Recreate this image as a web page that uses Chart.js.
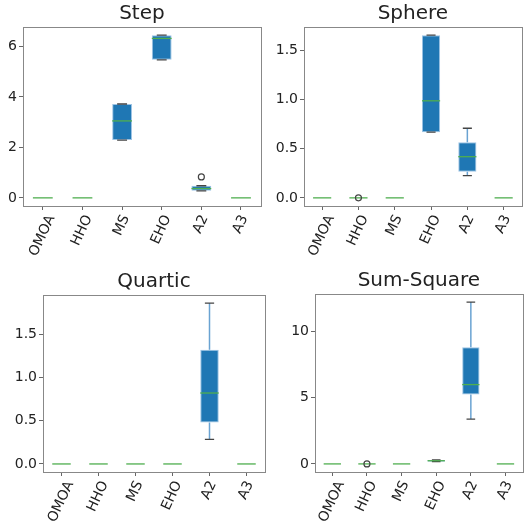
<!DOCTYPE html>
<html>
<head>
<meta charset="utf-8">
<script src="https://cdn.jsdelivr.net/npm/chart.js@4.4.1/dist/chart.umd.min.js"></script>
<style>
    body { margin: 0; background: #fff; width: 527px; height: 524px; position: relative; overflow: hidden; }
    canvas { position: absolute; }
</style>
</head>
<body>
<canvas id="step" width="266" height="262" style="left:0;top:0"></canvas>
<canvas id="sphere" width="261" height="262" style="left:266px;top:0"></canvas>
<canvas id="quartic" width="270" height="256" style="left:0;top:268px"></canvas>
<canvas id="sumsquare" width="258" height="257" style="left:270px;top:267px"></canvas>
<script>
const algorithms = ['OMOA', 'HHO', 'MS', 'EHO', 'A2', 'A3'];

// Step
const stepLow = [0, 0, 2.29, 5.47, 0.28, 0];
const stepQ1 = [0, 0, 2.29, 5.47, 0.28, 0];
const stepMedian = [0, 0, 3.05, 6.32, 0.37, 0];
const stepQ3 = [0, 0, 3.72, 6.45, 0.48, 0];
const stepHigh = [0, 0, 3.72, 6.45, 0.48, 0];
const stepOutliers = [{ x: 'A2', y: 0.83 }];
const stepTicks = [0, 2, 4, 6];
const stepTickLabels = ['0', '2', '4', '6'];

// Sphere
const sphereLow = [0, 0, 0, 0.67, 0.226, 0];
const sphereQ1 = [0, 0, 0, 0.67, 0.267, 0];
const sphereMedian = [0, 0, 0, 0.99, 0.42, 0];
const sphereQ3 = [0, 0, 0, 1.66, 0.567, 0];
const sphereHigh = [0, 0, 0, 1.66, 0.71, 0];
const sphereOutliers = [{ x: 'HHO', y: 0 }];
const sphereTicks = [0, 0.5, 1, 1.5];
const sphereTickLabels = ['0.0', '0.5', '1.0', '1.5'];

// Quartic
const quarticLow = [0, 0, 0, 0, 0.285, 0];
const quarticQ1 = [0, 0, 0, 0, 0.48, 0];
const quarticMedian = [0, 0, 0, 0, 0.82, 0];
const quarticQ3 = [0, 0, 0, 0, 1.32, 0];
const quarticHigh = [0, 0, 0, 0, 1.86, 0];
const quarticOutliers = [];
const quarticTicks = [0, 0.5, 1, 1.5];
const quarticTickLabels = ['0.0', '0.5', '1.0', '1.5'];

// Sum-Square
const sumLow = [0, 0, 0, 0.17, 3.38, 0];
const sumQ1 = [0, 0, 0, 0.17, 5.23, 0];
const sumMedian = [0, 0, 0, 0.24, 5.98, 0];
const sumQ3 = [0, 0, 0, 0.3, 8.8, 0];
const sumHigh = [0, 0, 0, 0.3, 12.2, 0];
const sumOutliers = [{ x: 'HHO', y: 0 }];
const sumTicks = [0, 5, 10];
const sumTickLabels = ['0', '5', '10'];

const FONT = 'DejaVu Sans';
const TEXT = '#222';
const FRAME = '#888';

// whiskers, caps and medians, drawn right after the boxes
const boxExtras = {
    id: 'boxExtras',
    afterDatasetDraw(chart, args) {
        if (args.index !== 0) return;
        const s = chart.options.plugins.boxExtras;
        const { ctx, scales: { x, y } } = chart;
        const bars = chart.getDatasetMeta(0).data;
        ctx.save();
        algorithms.forEach((name, i) => {
            const cx = x.getPixelForValue(i);
            const half = bars[i].width / 2;
            const yLow = y.getPixelForValue(s.low[i]);
            const yQ1 = y.getPixelForValue(s.q1[i]);
            const yQ3 = y.getPixelForValue(s.q3[i]);
            const yHigh = y.getPixelForValue(s.high[i]);
            const yMed = y.getPixelForValue(s.median[i]);

            ctx.strokeStyle = '#6aa3d2';
            ctx.lineWidth = 1.5;
            ctx.beginPath();
            ctx.moveTo(cx, yQ1); ctx.lineTo(cx, yLow);
            ctx.moveTo(cx, yQ3); ctx.lineTo(cx, yHigh);
            ctx.stroke();

            if (s.high[i] !== 0) {
                ctx.strokeStyle = '#444';
                ctx.lineWidth = 1.3;
                ctx.beginPath();
                ctx.moveTo(cx - half / 2, yLow); ctx.lineTo(cx + half / 2, yLow);
                ctx.moveTo(cx - half / 2, yHigh); ctx.lineTo(cx + half / 2, yHigh);
                ctx.stroke();
            }

            ctx.strokeStyle = '#4fae4f';
            ctx.lineWidth = 1.3;
            ctx.beginPath();
            ctx.moveTo(cx - half, yMed); ctx.lineTo(cx + half, yMed);
            ctx.stroke();
        });
        ctx.restore();
    },
    afterDraw(chart) {
        const { ctx, chartArea, scales: { x } } = chart;
        ctx.save();
        // full frame like matplotlib spines
        ctx.strokeStyle = FRAME;
        ctx.lineWidth = 1;
        ctx.strokeRect(Math.round(chartArea.left) + 0.5, Math.round(chartArea.top) + 0.5,
            Math.round(chartArea.right - chartArea.left), Math.round(chartArea.bottom - chartArea.top));

        // rotated category labels, centred under each tick
        const theta = 65 * Math.PI / 180;
        const h = 15;
        ctx.font = '14px "' + FONT + '"';
        ctx.fillStyle = TEXT;
        ctx.textAlign = 'left';
        ctx.textBaseline = 'top';
        algorithms.forEach((name, i) => {
            const w = ctx.measureText(name).width;
            const boxW = w * Math.cos(theta) + h * Math.sin(theta);
            const px = x.getPixelForValue(i) - boxW / 2;
            const py = chartArea.bottom + 7 + w * Math.sin(theta);
            ctx.save();
            ctx.translate(px, py);
            ctx.rotate(-theta);
            ctx.fillText(name, 0, 0);
            ctx.restore();
        });
        ctx.restore();
    }
};

function makeBoxChart(id, title, low, q1, median, q3, high, outliers, ticks, tickLabels, yWidth, xHeight, padRight) {
    const top = Math.max(...high, ...outliers.map(o => o.y));
    new Chart(document.getElementById(id), {
        type: 'bar',
        data: {
            labels: algorithms,
            datasets: [{
                data: q1.map((v, i) => [v, q3[i]]),
                backgroundColor: '#1f77b4',
                borderColor: '#9cc3e4',
                borderWidth: 1,
                borderSkipped: false,
                barPercentage: 0.5,
                categoryPercentage: 1.0,
                order: 1
            }, {
                type: 'line',
                data: outliers,
                showLine: false,
                pointStyle: 'circle',
                pointRadius: 3,
                pointBackgroundColor: 'rgba(0,0,0,0)',
                pointBorderColor: '#444',
                pointBorderWidth: 1.2,
                order: 0
            }]
        },
        options: {
            responsive: false,
            animation: false,
            events: [],
            layout: { padding: { left: 0, right: padRight, top: 0, bottom: 0 } },
            plugins: {
                legend: { display: false },
                tooltip: { enabled: false },
                title: {
                    display: true,
                    text: title,
                    fullSize: false,
                    color: TEXT,
                    font: { family: FONT, size: 20, weight: 'normal', lineHeight: 1.2 },
                    padding: { top: 2, bottom: 1 }
                },
                boxExtras: { low, q1, median, q3, high }
            },
            scales: {
                x: {
                    offset: true,
                    ticks: { display: false },
                    border: { display: false },
                    grid: { display: true, offset: false, drawOnChartArea: false, drawTicks: true, tickLength: 4, color: '#666' },
                    afterFit: scale => { scale.height = xHeight; }
                },
                y: {
                    min: -0.05 * top,
                    max: 1.05 * top,
                    afterBuildTicks: scale => { scale.ticks = ticks.map(v => ({ value: v })); },
                    ticks: {
                        padding: 2,
                        color: TEXT,
                        font: { family: FONT, size: 14 },
                        callback: value => tickLabels[ticks.indexOf(value)]
                    },
                    border: { display: false },
                    grid: { display: true, drawOnChartArea: false, drawTicks: true, tickLength: 4, color: '#666' },
                    afterFit: scale => { scale.width = yWidth; }
                }
            }
        },
        plugins: [boxExtras]
    });
}

makeBoxChart('step', 'Step', stepLow, stepQ1, stepMedian, stepQ3, stepHigh, stepOutliers, stepTicks, stepTickLabels, 23, 56, 5);
makeBoxChart('sphere', 'Sphere', sphereLow, sphereQ1, sphereMedian, sphereQ3, sphereHigh, sphereOutliers, sphereTicks, sphereTickLabels, 38, 56, 0);
makeBoxChart('quartic', 'Quartic', quarticLow, quarticQ1, quarticMedian, quarticQ3, quarticHigh, quarticOutliers, quarticTicks, quarticTickLabels, 43, 52, 5);
makeBoxChart('sumsquare', 'Sum-Square', sumLow, sumQ1, sumMedian, sumQ3, sumHigh, sumOutliers, sumTicks, sumTickLabels, 45, 52, 0);
</script>
</body>
</html>
